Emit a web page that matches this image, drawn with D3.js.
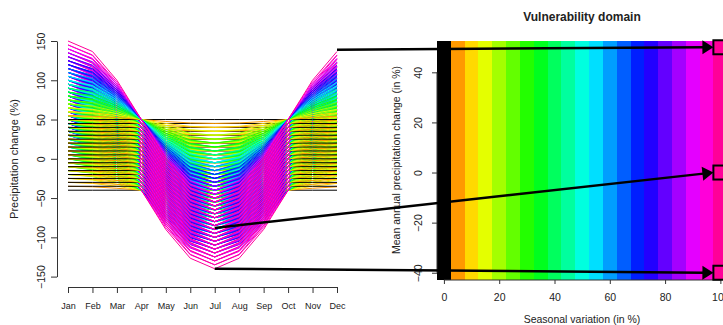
<!DOCTYPE html>
<html>
<head>
<meta charset="utf-8">
<script src="https://cdn.jsdelivr.net/npm/d3@7"></script>
<style>
  body { margin: 0; background: #fff; }
  svg { display: block; }
  text { font-family: "Liberation Sans", Arial, Helvetica, sans-serif; fill: #222; }
</style>
</head>
<body>
<svg id="chart" width="723" height="325"></svg>
<script>
// Months of the precipitation-change scenarios
const months = ["Jan", "Feb", "Mar", "Apr", "May", "Jun", "Jul", "Aug", "Sep", "Oct", "Nov", "Dec"];
// Weight of the seasonal amplitude applied to each month (wet winter, dry summer)
const seasonalWeight = [1, 0.866, 0.5, 0, -0.5, -0.866, -1, -0.866, -0.5, 0, 0.5, 0.866];
// Mean annual precipitation changes explored (%)
const meanChanges = [-40, -35, -30, -25, -20, -15, -10, -5, 0, 5, 10, 15, 20, 25, 30, 35, 40, 45, 50];
// Seasonal variation amplitudes explored (%)
const seasonalVariations = [0, 5, 10, 15, 20, 25, 30, 35, 40, 45, 50, 55, 60, 65, 70, 75, 80, 85, 90, 95, 100];

// Axis ticks
const leftYTicks = [-150, -100, -50, 0, 50, 100, 150];
const rightXTicks = [0, 20, 40, 60, 80, 100];
const rightYTicks = [-40, -20, 0, 20, 40];

// Highlighted scenarios: monthly point on the left linked to its (variation, mean) cell
const linkMonths = ["Dec", "Jul", "Jul"];
const linkValues = [139, -88, -140];
const linkVariation = [100, 100, 100];
const linkMean = [50, 0, -40];

const svg = d3.select("#chart");

// Colour per seasonal variation: black for none, then a rainbow from orange to pink
const colour = d3.scaleOrdinal()
  .domain(seasonalVariations)
  .range(seasonalVariations.map((s, i) =>
    i === 0 ? "#000000" : d3.hsl(36 + (i - 1) * (288 / 19), 1, 0.5).formatHex()));

// ---------- Left panel: monthly scenarios ----------
const xL = d3.scalePoint().domain(months).range([68, 337]);
const yL = d3.scaleLinear().domain([-150, 150]).range([276.6, 41]);

const scenarios = [];
meanChanges.forEach(m => {
  seasonalVariations.forEach(s => {
    scenarios.push({ m, s, values: seasonalWeight.map(w => m + s * w) });
  });
});

const line = d3.line()
  .x((d, i) => xL(months[i]))
  .y(d => yL(d));

svg.append("g")
  .selectAll("path")
  .data(scenarios)
  .join("path")
  .attr("d", d => line(d.values))
  .attr("fill", "none")
  .attr("stroke", d => colour(d.s))
  .attr("stroke-width", 1);

// Left axes
const axL = svg.append("g")
  .attr("transform", "translate(57,0)")
  .call(d3.axisLeft(yL).tickValues(leftYTicks).tickSize(6).tickSizeOuter(0));
axL.selectAll("text")
  .attr("transform", "rotate(-90)")
  .attr("x", 0).attr("y", -12.5).attr("dy", 0)
  .attr("text-anchor", "middle")
  .style("font-size", "10.5px");

const axB = svg.append("g")
  .attr("transform", "translate(0,287)")
  .call(d3.axisBottom(xL).tickSize(6).tickSizeOuter(0));
axB.selectAll("text")
  .attr("y", 22).attr("dy", 0)
  .style("font-size", "9px");

[axL, axB].forEach(a => {
  a.select(".domain").attr("stroke", "#333");
  a.selectAll(".tick line").attr("stroke", "#333");
  a.selectAll("text").attr("fill", "#222");
});

svg.append("text")
  .attr("transform", "translate(18,159) rotate(-90)")
  .attr("text-anchor", "middle")
  .style("font-size", "11px")
  .text("Precipitation change (%)");

// ---------- Right panel: vulnerability domain ----------
const xR = d3.scaleLinear().domain([-2.5, 102.5]).range([437, 727.3]);
const yR = d3.scaleLinear().domain([-42.5, 52.5]).range([279, 41]);

const cells = [];
seasonalVariations.forEach(s => meanChanges.forEach(m => cells.push({ s, m })));

svg.append("g")
  .attr("shape-rendering", "crispEdges")
  .selectAll("rect")
  .data(cells)
  .join("rect")
  .attr("x", d => xR(d.s - 2.5))
  .attr("width", d => xR(d.s + 2.5) - xR(d.s - 2.5) + 0.5)
  .attr("y", d => yR(d.m + 2.5))
  .attr("height", d => yR(d.m - 2.5) - yR(d.m + 2.5) + 0.5)
  .attr("fill", d => colour(d.s));

const axRY = svg.append("g")
  .attr("transform", "translate(437,0)")
  .call(d3.axisLeft(yR).tickValues(rightYTicks).tickSize(5).tickSizeOuter(0));
axRY.select(".domain").attr("d", `M0,${yR(-40)}V${yR(40)}`);
axRY.selectAll("text")
  .attr("transform", "rotate(-90)")
  .attr("x", 0).attr("y", -15).attr("dy", 0)
  .attr("text-anchor", "middle")
  .style("font-size", "10.5px");

const axRX = svg.append("g")
  .attr("transform", "translate(0,280)")
  .call(d3.axisBottom(xR).tickValues(rightXTicks).tickSize(4).tickSizeOuter(0));
axRX.select(".domain").attr("d", `M${xR(0)},0H${xR(100)}`);
axRX.selectAll("text")
  .attr("y", 21).attr("dy", 0)
  .style("font-size", "10.5px");

[axRY, axRX].forEach(a => {
  a.select(".domain").attr("stroke", "#333");
  a.selectAll(".tick line").attr("stroke", "#333");
  a.selectAll("text").attr("fill", "#222");
});

svg.append("text")
  .attr("transform", "translate(400,160) rotate(-90)")
  .attr("text-anchor", "middle")
  .style("font-size", "10.5px")
  .text("Mean annual precipitation change (in %)");

svg.append("text")
  .attr("x", 582).attr("y", 323)
  .attr("text-anchor", "middle")
  .style("font-size", "10.5px")
  .text("Seasonal variation (in %)");

svg.append("text")
  .attr("x", 582).attr("y", 21)
  .attr("text-anchor", "middle")
  .style("font-size", "12px")
  .style("font-weight", "bold")
  .text("Vulnerability domain");

// ---------- Links between scenarios and their cells ----------
const half = 7;     // half side of the cell marker
const headLen = 11; // arrow head length
const headHalf = 7; // arrow head half width

const links = linkMonths.map((mo, i) => {
  const x1 = xL(mo), y1 = yL(linkValues[i]);
  const cx = xR(linkVariation[i]), cy = yR(linkMean[i]);
  const x2 = cx - half, y2 = cy;
  const dx = x2 - x1, dy = y2 - y1, len = Math.hypot(dx, dy);
  const ux = dx / len, uy = dy / len;
  const bx = x2 - ux * headLen, by = y2 - uy * headLen;
  return { x1, y1, x2, y2, cx, cy, ux, uy, bx, by };
});

const lk = svg.append("g");
lk.selectAll("line")
  .data(links)
  .join("line")
  .attr("x1", d => d.x1).attr("y1", d => d.y1)
  .attr("x2", d => d.bx + d.ux).attr("y2", d => d.by + d.uy)
  .attr("stroke", "#000")
  .attr("stroke-width", 2.5);

lk.selectAll("polygon")
  .data(links)
  .join("polygon")
  .attr("points", d => [
    [d.x2, d.y2],
    [d.bx - d.uy * headHalf, d.by + d.ux * headHalf],
    [d.bx + d.uy * headHalf, d.by - d.ux * headHalf]
  ].map(p => p.join(",")).join(" "))
  .attr("fill", "#000");

lk.selectAll("rect")
  .data(links)
  .join("rect")
  .attr("x", d => d.cx - half).attr("y", d => d.cy - half)
  .attr("width", half * 2).attr("height", half * 2)
  .attr("fill", "none")
  .attr("stroke", "#000")
  .attr("stroke-width", 2);
</script>
</body>
</html>
